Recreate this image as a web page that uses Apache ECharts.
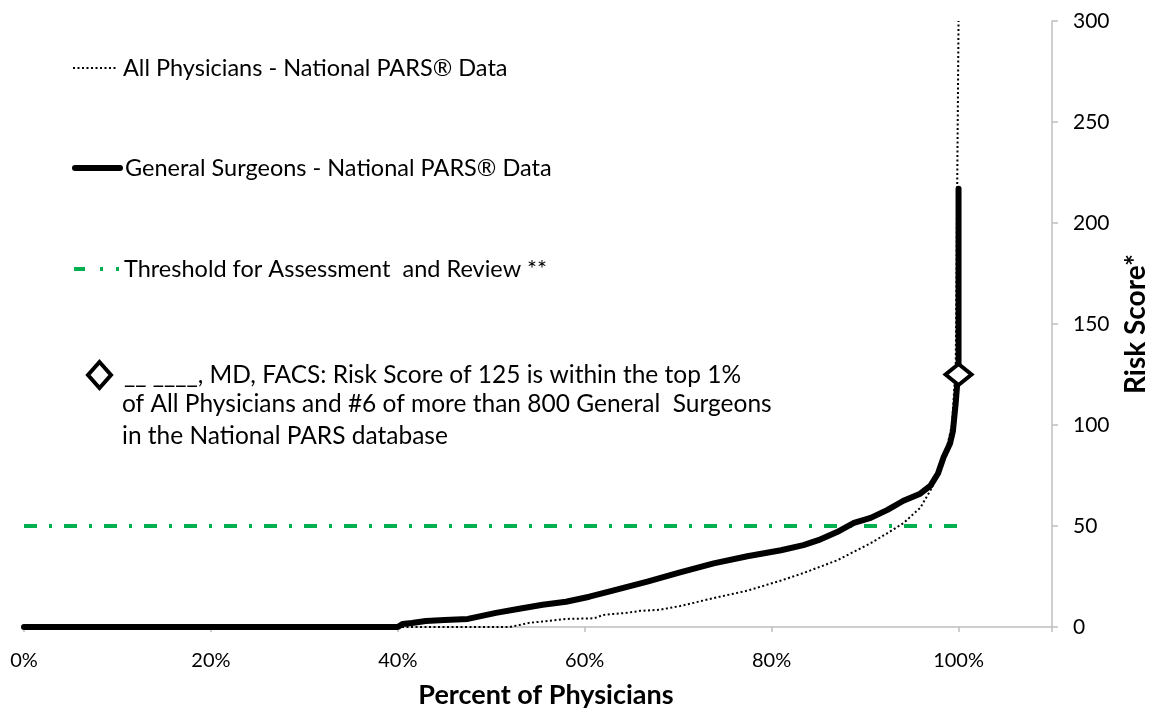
<!DOCTYPE html>
<html><head><meta charset="utf-8">
<script src="https://cdn.jsdelivr.net/npm/echarts@6/dist/echarts.min.js"></script>
<style>html,body{margin:0;padding:0;background:#fff}#c{width:1154px;height:711px}</style>
</head><body><div id="c"></div>
<script>
// Series names
const nameAll = 'All Physicians - National PARS® Data';
const nameGS = 'General Surgeons - National PARS® Data';
const nameTh = 'Threshold for Assessment  and Review **';
const nameDr = '__ ____, MD, FACS: Risk Score of 125 is within the top 1%';
const drExtraLines = ['of All Physicians and #6 of more than 800 General  Surgeons', 'in the National PARS database'];

// All Physicians (percent of physicians, risk score)
const allPhysX = [0, 52, 53, 54, 56, 58, 61, 62, 64.5, 66, 68, 70.2, 73.8, 77.4, 81, 83.4, 87, 90.6, 92.4, 94.1, 95.9, 97, 98, 98.6, 99.3, 99.7, 100];
const allPhysY = [0, 0, 1, 2, 3, 4, 4.3, 6, 7, 8, 8.5, 10.4, 14.3, 18, 23, 26.7, 33, 41.5, 46.5, 51.4, 59, 67.7, 77.6, 86, 100, 130, 300];

// General Surgeons
const gsX = [0, 40, 40.5, 41.5, 43, 45, 47.5, 48.5, 50.5, 53, 55.5, 58, 60.5, 63, 66.7, 70.2, 73.8, 77.4, 81, 83.4, 85, 87, 88.8, 90.6, 92.4, 94.1, 95.9, 97, 97.8, 98.4, 99.1, 99.4, 99.7, 99.85, 100, 100];
const gsY = [0, 0, 1.5, 2, 3, 3.5, 4, 5, 7, 9, 11, 12.5, 15, 18, 22.5, 27, 31.5, 35, 38, 40.5, 43, 47, 51.5, 54, 58, 62.5, 66, 70, 76, 84, 91, 97, 111, 120, 125, 217];

// Threshold
const thX = [0, 100];
const thY = [50, 50];

// Highlighted physician
const drX = [100];
const drY = [125];

// Axis ticks
const xTicks = [0, 20, 40, 60, 80, 100];
const yTicks = [0, 50, 100, 150, 200, 250, 300];

const zip = (a, b) => a.map((v, i) => [v, b[i]]);
const FONT = 'Lato';
const LEG_FS = 23.5;

const chart = echarts.init(document.getElementById('c'));
chart.setOption({
  animation: false,
  backgroundColor: '#fff',
  textStyle: { fontFamily: FONT, color: '#000' },
  grid: { left: 24, right: 102, top: 21, bottom: 84, containLabel: false, outerBoundsMode: 'none' },
  xAxis: {
    type: 'value', min: 0, max: 110, interval: 20,
    name: 'Percent of Physicians', nameLocation: 'middle', nameGap: 55,
    nameTextStyle: { fontFamily: FONT, fontWeight: 'bold', fontSize: 27, color: '#000', padding: [0, 0, 0, 16] },
    axisLine: { show: true, onZero: false, lineStyle: { color: '#bfbfbf', width: 1.5 } },
    axisTick: { show: true, length: 5, lineStyle: { color: '#bfbfbf', width: 1.5 } },
    splitLine: { show: false },
    axisLabel: { margin: 24, fontSize: 20, color: '#000', fontFamily: FONT,
      formatter: v => xTicks.indexOf(v) >= 0 ? v + '%' : '' }
  },
  yAxis: {
    type: 'value', position: 'right', min: 0, max: 300, interval: 50,
    name: 'Risk Score*', nameLocation: 'middle', nameGap: 70, nameRotate: 90,
    nameTextStyle: { fontFamily: FONT, fontWeight: 'bold', fontSize: 28, color: '#000' },
    axisLine: { show: true, onZero: false, lineStyle: { color: '#bfbfbf', width: 1.5 } },
    axisTick: { show: true, length: 6, lineStyle: { color: '#bfbfbf', width: 1.5 } },
    splitLine: { show: false },
    axisLabel: { margin: 21, fontSize: 21, color: '#000', fontFamily: FONT,
      formatter: v => yTicks.indexOf(v) >= 0 ? String(v) : '' }
  },
  legend: [
    { data: [nameAll], left: 72, top: 56, padding: 0, itemWidth: 45, itemHeight: 26,
      itemStyle: { opacity: 0 }, lineStyle: { width: 2 },
      textStyle: { fontSize: LEG_FS, fontFamily: FONT, color: '#000' } },
    { data: [nameGS], left: 72, top: 156, padding: 0, itemWidth: 45, itemHeight: 26,
      itemStyle: { opacity: 0 }, lineStyle: { width: 6, cap: 'round' },
      textStyle: { fontSize: LEG_FS, fontFamily: FONT, color: '#000' } },
    { data: [nameTh], left: 72, top: 257, padding: 0, itemWidth: 45, itemHeight: 26,
      itemStyle: { opacity: 0 }, lineStyle: { width: 4, type: [11, 15, 3, 13, 3, 100] },
      textStyle: { fontSize: LEG_FS, fontFamily: FONT, color: '#000' } },
    { data: [nameDr], left: 86, top: 360, padding: 0, itemWidth: 23, itemHeight: 26,
      itemStyle: { borderWidth: 4, borderColor: '#000', color: '#fff' },
      textStyle: { fontSize: 24.5, fontFamily: FONT, color: '#000', padding: [0, 0, 0, 8] } }
  ],
  graphic: drExtraLines.map((t, i) => ({
    type: 'text', left: 122, top: 392 + i * 32,
    style: { text: t, font: '24.5px ' + FONT, fill: '#000' }
  })),
  series: [
    { name: nameAll, type: 'line', data: zip(allPhysX, allPhysY), symbol: 'none', z: 2,
      lineStyle: { color: '#000', width: 2, type: [2, 2.5] } },
    { name: nameTh, type: 'line', data: zip(thX, thY), symbol: 'none', z: 3,
      lineStyle: { color: '#00b050', width: 4, type: [13, 12, 3, 12] } },
    { name: nameGS, type: 'line', data: zip(gsX, gsY), symbol: 'none', z: 4,
      lineStyle: { color: '#000', width: 6, join: 'round', cap: 'round' } },
    { name: nameDr, type: 'scatter', data: zip(drX, drY), symbol: 'diamond', symbolSize: [26, 21], z: 5,
      itemStyle: { color: '#fff', borderColor: '#000', borderWidth: 4, opacity: 1 } }
  ]
});
</script></body></html>
